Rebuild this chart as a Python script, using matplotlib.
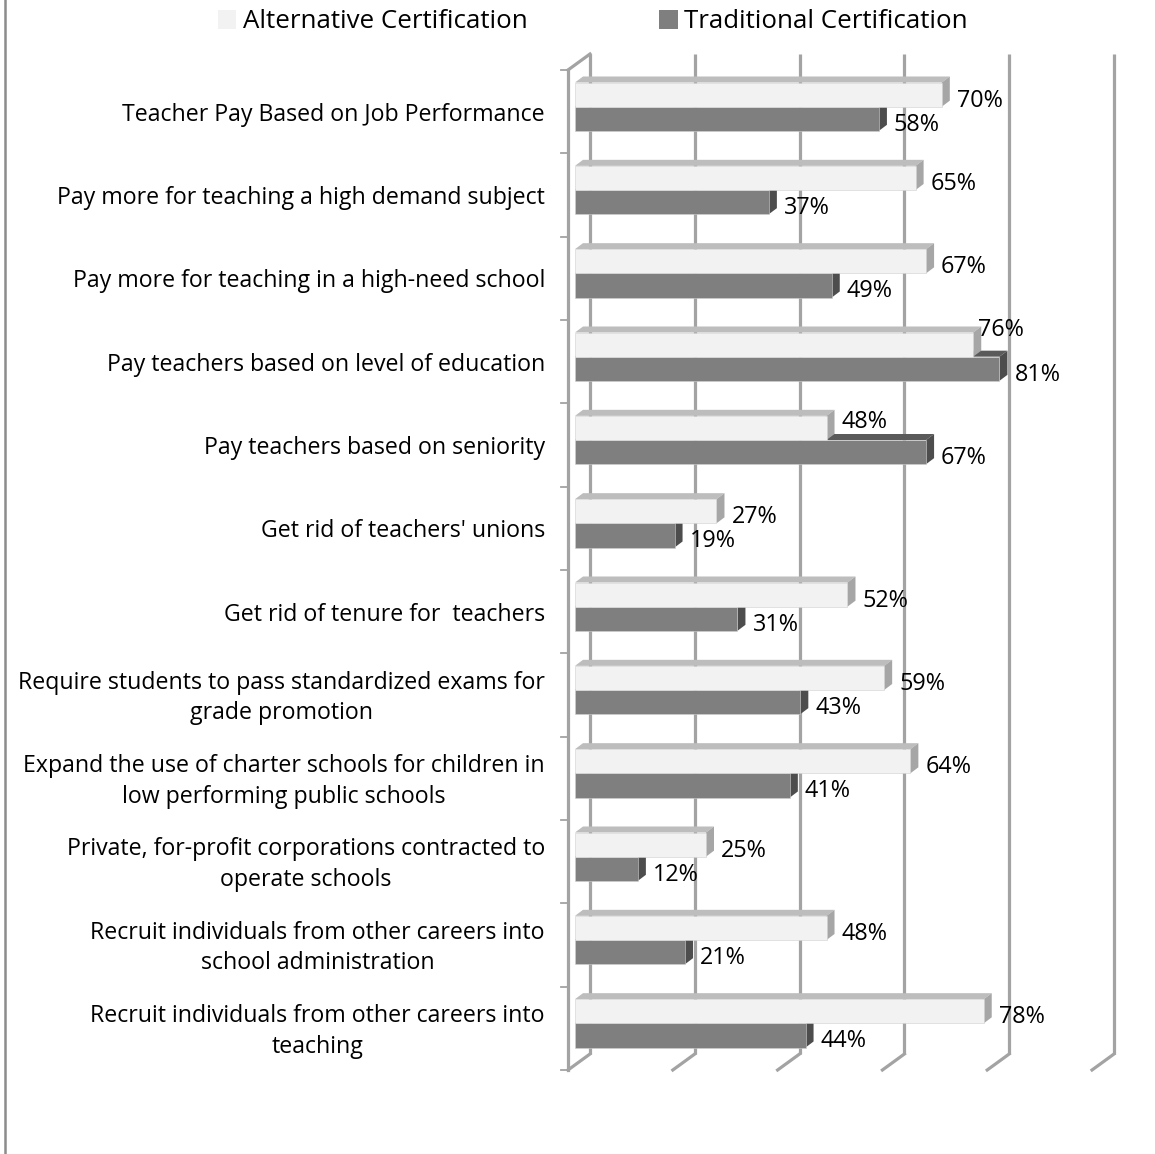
import matplotlib
matplotlib.use("Agg")
import matplotlib.pyplot as plt
from matplotlib.patches import Polygon, Patch
from matplotlib.lines import Line2D
from matplotlib.transforms import ScaledTranslation

plt.rcParams['font.family'] = ['Open Sans', 'DejaVu Sans']

categories = [
    "Teacher Pay Based on Job Performance",
    "Pay more for teaching a high demand subject",
    "Pay more for teaching in a high-need school",
    "Pay teachers based on level of education",
    "Pay teachers based on seniority",
    "Get rid of teachers' unions",
    "Get rid of tenure for  teachers",
    "Require students to pass standardized exams for\ngrade promotion",
    "Expand the use of charter schools for children in\nlow performing public schools",
    "Private, for-profit corporations contracted to\noperate schools",
    "Recruit individuals from other careers into\nschool administration",
    "Recruit individuals from other careers into\nteaching",
]
alternative = [70, 65, 67, 76, 48, 27, 52, 59, 64, 25, 48, 78]
traditional = [58, 37, 49, 81, 67, 19, 31, 43, 41, 12, 21, 44]
series_names = ["Alternative Certification", "Traditional Certification"]
x_ticks = [0, 20, 40, 60, 80, 100]

# colours: front, top, side
alt_cols = ("#F2F2F2", "#BDBDBD", "#A6A6A6")
trad_cols = ("#7F7F7F", "#5A5A5A", "#4D4D4D")
grid_col = "#A3A3A3"

# excel moved a couple of labels out of the way
label_nudge = {("alt", 3): (-10, 21), ("alt", 4): (0, 12)}

W, H, DPI = 1155, 1154, 100
fig = plt.figure(figsize=(W / DPI, H / DPI), dpi=DPI)

# axes = plane of the bar fronts (pixels)
left_px, right_px, top_px, bot_px = 575, 1099, 65, 1065
ax = fig.add_axes([left_px / W, 1 - bot_px / H, (right_px - left_px) / W, (bot_px - top_px) / H])
n = len(categories)
ax.set_xlim(0, 100)
ax.set_ylim(n - 0.5, -0.5)
ax.axis('off')

ppx = (right_px - left_px) / 100.0   # px per percent
ppy = (bot_px - top_px) / n          # px per category

def shifted(dx, dy):
    # offset in pixels (dy positive = up)
    return ax.transData + ScaledTranslation(dx / DPI, dy / DPI, fig.dpi_scale_trans)

back = (15, 11)
front = (-7, -5)

# back wall gridlines + floor slants
for v in x_ticks:
    ax.plot([v, v], [-0.5, n - 0.5], color=grid_col, lw=2.3, transform=shifted(*back),
            clip_on=False, zorder=1, solid_capstyle='butt')
    x_b = v + back[0] / ppx
    y_b = n - 0.5 - back[1] / ppy
    x_f = v + front[0] / ppx
    y_f = n - 0.5 - front[1] / ppy
    ax.plot([x_b, x_f], [y_b, y_f], color=grid_col, lw=2.3, clip_on=False, zorder=1)

# left front axis line, top slant and ticks
ax.plot([0, 0], [-0.5, n - 0.5], color=grid_col, lw=2.3, transform=shifted(*front),
        clip_on=False, zorder=1)
ax.plot([front[0] / ppx, back[0] / ppx], [-0.5 - front[1] / ppy, -0.5 - back[1] / ppy],
        color=grid_col, lw=2.3, clip_on=False, zorder=1)
for k in range(n + 1):
    ax.plot([front[0] / ppx - 7 / ppx, front[0] / ppx], [k - 0.5 - front[1] / ppy] * 2,
            color=grid_col, lw=1.3, clip_on=False, zorder=1)

bar_h = 0.29
dep_x, dep_y = 8 / ppx, 6 / ppy

def bar3d(val, yc, cols, z):
    y0, y1 = yc - bar_h / 2, yc + bar_h / 2
    ax.add_patch(Polygon([(0, y0), (val, y0), (val + dep_x, y0 - dep_y), (dep_x, y0 - dep_y)],
                         closed=True, fc=cols[1], ec='none', zorder=z, clip_on=False))
    ax.add_patch(Polygon([(val, y0), (val, y1), (val + dep_x, y1 - dep_y), (val + dep_x, y0 - dep_y)],
                         closed=True, fc=cols[2], ec='none', zorder=z, clip_on=False))
    ax.barh(yc, val, height=bar_h, color=cols[0], edgecolor='#D0D0D0', linewidth=0.4,
            zorder=z + 0.1)

for i in range(n):
    y_alt = i - bar_h / 2
    y_trad = i + bar_h / 2
    bar3d(traditional[i], y_trad, trad_cols, 2 + i * 0.01)
    bar3d(alternative[i], y_alt, alt_cols, 2.5 + i * 0.01)
    for key, val, yc in (("alt", alternative[i], y_alt), ("trad", traditional[i], y_trad)):
        nx, ny = label_nudge.get((key, i), (0, 0))
        ax.annotate(f"{val}%", xy=(val, yc), xytext=(15 + nx, -6 + ny), textcoords='offset pixels',
                    ha='left', va='center', fontsize=16.8, color='black', zorder=5)
    ax.annotate(categories[i], xy=(0, i), xytext=(-30, -8), textcoords='offset pixels',
                ha='right', va='center', multialignment='center', fontsize=16.7,
                color='black', linespacing=1.38)

handles = [Patch(fc=alt_cols[0], ec='none'), Patch(fc=trad_cols[0], ec='none')]
fig.legend(handles, series_names, loc='center', bbox_to_anchor=(593 / W, 1 - 22 / H),
           ncol=2, frameon=False, fontsize=18.6, handlelength=0.7, handleheight=0.7,
           handletextpad=0.25, columnspacing=5.1, borderaxespad=0)

fig.add_artist(Line2D([5 / W, 5 / W], [0, 1], color='#8C8C8C', lw=1.8))

fig.savefig("out.png", dpi=DPI)
